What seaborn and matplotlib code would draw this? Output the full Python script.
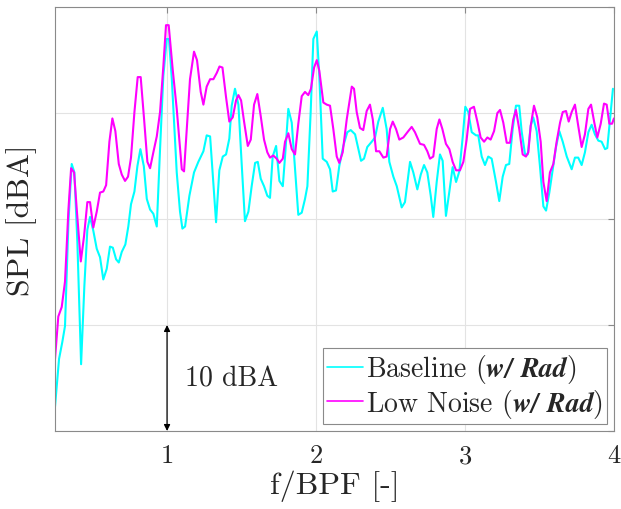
import matplotlib
matplotlib.use("Agg", force=True)
import matplotlib.pyplot as plt
import pandas as pd
import seaborn as sns

# Baseline (w/ Rad) spectrum
f_base = [
    0.248, 0.275, 0.297, 0.315, 0.338, 0.360, 0.378, 0.398, 0.423, 0.445,
    0.465, 0.483, 0.505, 0.528, 0.550, 0.572, 0.595, 0.617, 0.636, 0.658,
    0.676, 0.696, 0.720, 0.740, 0.758, 0.781, 0.801, 0.821, 0.844, 0.864,
    0.886, 0.908, 0.931, 0.953, 0.975, 0.998, 1.013, 1.032, 1.065, 1.087,
    1.103, 1.121, 1.150, 1.181, 1.210, 1.244, 1.266, 1.289, 1.311, 1.329,
    1.351, 1.374, 1.396, 1.418, 1.434, 1.456, 1.479, 1.501, 1.523, 1.546,
    1.568, 1.591, 1.609, 1.629, 1.651, 1.673, 1.691, 1.709, 1.732, 1.754,
    1.777, 1.792, 1.814, 1.837, 1.859, 1.881, 1.904, 1.926, 1.942, 1.964,
    1.982, 2.005, 2.022, 2.045, 2.072, 2.094, 2.112, 2.134, 2.156, 2.183,
    2.210, 2.233, 2.262, 2.284, 2.302, 2.322, 2.344, 2.374, 2.396, 2.418,
    2.448, 2.474, 2.492, 2.519, 2.542, 2.575, 2.597, 2.631, 2.653, 2.680,
    2.703, 2.725, 2.747, 2.770, 2.787, 2.810, 2.832, 2.850, 2.872, 2.895,
    2.917, 2.940, 2.962, 2.985, 3.002, 3.022, 3.045, 3.074, 3.089, 3.112,
    3.134, 3.156, 3.179, 3.208, 3.230, 3.253, 3.275, 3.297, 3.320, 3.342,
    3.364, 3.380, 3.403, 3.421, 3.441, 3.458, 3.481, 3.503, 3.526, 3.544,
    3.566, 3.589, 3.611, 3.633, 3.656, 3.683, 3.716, 3.738, 3.760, 3.783,
    3.805, 3.828, 3.850, 3.872, 3.895, 3.917, 3.940, 3.955, 3.973, 3.993,
]
spl_base = [
    52.3, 56.8, 58.4, 59.9, 69.7, 75.2, 74.4, 67.8, 56.3, 63.7,
    69.0, 70.2, 68.9, 67.2, 66.4, 64.3, 65.3, 67.4, 67.3, 66.2,
    65.9, 66.9, 67.6, 69.3, 71.4, 72.6, 75.0, 76.6, 75.0, 71.9,
    70.9, 70.5, 69.3, 76.6, 83.5, 87.0, 87.0, 83.2, 74.4, 70.7,
    69.1, 69.3, 72.2, 74.4, 75.4, 76.4, 77.9, 77.8, 73.3, 69.7,
    74.6, 75.9, 76.1, 77.6, 80.7, 82.3, 80.8, 75.2, 69.8, 70.7,
    73.1, 75.3, 75.4, 73.8, 73.1, 72.2, 72.0, 75.9, 76.9, 73.6,
    73.1, 75.9, 80.4, 79.1, 74.7, 70.4, 70.6, 71.9, 73.1, 80.1,
    87.0, 87.7, 83.5, 75.7, 75.4, 74.7, 72.6, 72.7, 75.0, 76.9,
    78.2, 78.4, 78.0, 76.6, 75.5, 75.7, 76.8, 77.3, 77.7, 79.2,
    80.5, 78.5, 75.4, 74.0, 73.1, 71.1, 71.6, 75.4, 74.4, 72.8,
    74.2, 75.1, 74.4, 72.2, 70.2, 73.5, 76.1, 75.5, 70.3, 72.6,
    74.9, 73.5, 74.5, 77.8, 80.6, 80.1, 78.2, 77.9, 77.9, 75.9,
    75.1, 75.9, 75.7, 73.5, 71.7, 74.0, 75.1, 75.2, 78.5, 80.7,
    80.7, 78.3, 76.1, 76.1, 78.8, 79.6, 78.3, 75.0, 71.2, 70.8,
    72.5, 74.7, 76.8, 78.3, 77.3, 75.9, 74.7, 75.8, 75.8, 75.1,
    76.3, 78.2, 78.9, 78.0, 77.4, 77.3, 76.6, 76.7, 79.4, 82.3,
]

# Low Noise (w/ Rad) spectrum
f_low = [
    0.248, 0.270, 0.293, 0.315, 0.338, 0.356, 0.376, 0.394, 0.421, 0.443,
    0.465, 0.483, 0.505, 0.528, 0.550, 0.572, 0.591, 0.613, 0.633, 0.653,
    0.676, 0.696, 0.718, 0.738, 0.758, 0.781, 0.803, 0.823, 0.846, 0.868,
    0.886, 0.908, 0.931, 0.953, 0.975, 0.993, 1.011, 1.038, 1.065, 1.099,
    1.114, 1.154, 1.181, 1.201, 1.226, 1.244, 1.266, 1.289, 1.311, 1.334,
    1.352, 1.372, 1.396, 1.418, 1.441, 1.463, 1.479, 1.497, 1.517, 1.542,
    1.562, 1.584, 1.606, 1.629, 1.651, 1.673, 1.691, 1.713, 1.736, 1.754,
    1.777, 1.792, 1.814, 1.837, 1.859, 1.881, 1.904, 1.926, 1.948, 1.966,
    1.987, 2.005, 2.022, 2.049, 2.072, 2.094, 2.116, 2.139, 2.156, 2.179,
    2.206, 2.240, 2.255, 2.273, 2.295, 2.317, 2.340, 2.362, 2.381, 2.403,
    2.425, 2.452, 2.474, 2.497, 2.515, 2.537, 2.559, 2.586, 2.619, 2.642,
    2.664, 2.698, 2.725, 2.747, 2.765, 2.787, 2.810, 2.828, 2.848, 2.872,
    2.895, 2.917, 2.940, 2.966, 2.989, 3.011, 3.034, 3.060, 3.083, 3.105,
    3.128, 3.150, 3.172, 3.195, 3.217, 3.235, 3.257, 3.280, 3.302, 3.324,
    3.342, 3.364, 3.387, 3.409, 3.425, 3.441, 3.463, 3.485, 3.508, 3.526,
    3.548, 3.570, 3.593, 3.615, 3.638, 3.656, 3.678, 3.696, 3.716, 3.738,
    3.760, 3.783, 3.805, 3.828, 3.846, 3.868, 3.888, 3.911, 3.933, 3.951,
    3.969, 3.987, 4.000,
]
spl_low = [
    56.8, 60.8, 61.7, 64.1, 70.9, 74.8, 74.4, 70.9, 66.0, 68.4,
    71.6, 71.6, 69.2, 70.7, 72.5, 72.6, 73.2, 77.3, 79.5, 78.3,
    75.2, 74.2, 73.6, 74.0, 75.8, 80.1, 83.4, 83.4, 79.4, 75.4,
    74.8, 76.3, 77.8, 80.1, 84.4, 88.3, 88.3, 84.1, 80.4, 74.7,
    74.5, 83.2, 85.8, 85.0, 82.0, 80.8, 82.5, 83.2, 83.2, 83.8,
    84.4, 84.3, 81.5, 79.2, 79.6, 81.2, 81.7, 81.2, 79.2, 76.9,
    77.5, 80.8, 81.8, 79.7, 77.5, 76.3, 75.8, 76.0, 75.7, 75.3,
    75.7, 77.3, 78.1, 76.6, 76.1, 79.0, 81.6, 82.0, 81.7, 82.3,
    84.3, 85.0, 84.0, 81.0, 80.8, 80.7, 78.5, 75.9, 75.3, 76.3,
    79.4, 82.5, 82.3, 80.1, 78.6, 78.4, 80.2, 80.8, 79.4, 76.4,
    76.4, 75.8, 75.9, 78.5, 79.2, 78.5, 77.5, 77.7, 78.3, 78.7,
    78.2, 77.1, 77.0, 76.4, 75.7, 75.9, 78.5, 79.4, 78.5, 77.1,
    76.6, 75.4, 74.6, 74.6, 75.4, 77.5, 80.4, 80.6, 79.2, 77.7,
    77.3, 77.7, 77.5, 78.3, 80.0, 80.3, 79.1, 77.2, 77.2, 79.4,
    80.3, 78.5, 76.1, 75.9, 76.3, 78.8, 80.7, 79.6, 77.3, 73.5,
    71.7, 74.4, 75.2, 77.3, 79.1, 80.1, 80.2, 79.2, 80.1, 80.8,
    78.8, 76.8, 78.0, 80.4, 80.8, 79.1, 77.7, 79.0, 80.9, 80.8,
    79.0, 79.0, 79.5,
]

labels = [
    r"Baseline ($\mathbfit{w/\ Rad}$)",
    r"Low Noise ($\mathbfit{w/\ Rad}$)",
]
colors = ["#00FFFF", "#FF00FF"]
x_ticks = [1, 2, 3, 4]
y_ticks = [50, 60, 70, 80, 90]

frame = pd.concat(
    [
        pd.DataFrame({"f": f_base, "spl": spl_base, "case": labels[0]}),
        pd.DataFrame({"f": f_low, "spl": spl_low, "case": labels[1]}),
    ],
    ignore_index=True,
)

sns.set_theme(style="white")
plt.rcParams["font.family"] = ["cmr10", "DejaVu Serif"]
plt.rcParams["mathtext.fontset"] = "cm"
plt.rcParams["axes.formatter.use_mathtext"] = True

fig = plt.figure(figsize=(6.21, 5.10), dpi=100)
ax = fig.add_axes([0.0886, 0.153, 0.9001, 0.831])

sns.lineplot(
    data=frame,
    x="f",
    y="spl",
    hue="case",
    palette=colors,
    sort=False,
    estimator=None,
    linewidth=1.5,
    ax=ax,
)

ax.set_xlim(0.248, 4.0)
ax.set_ylim(50, 90)
ax.set_xticks(x_ticks)
ax.set_xticklabels([str(t) for t in x_ticks])
ax.set_yticks(y_ticks)
ax.set_yticklabels([])
ax.grid(True, color="#e3e3e3", linewidth=0.8)
ax.set_axisbelow(True)
for spine in ax.spines.values():
    spine.set_color("#8a8a8a")
    spine.set_linewidth(0.8)
ax.tick_params(direction="in", length=4, width=0.8, color="#8a8a8a",
               top=True, right=True, labelsize=19, pad=9)
ax.set_xlabel("f/BPF [-]", fontsize=23, labelpad=2)
ax.set_ylabel("SPL [dBA]", fontsize=23, labelpad=4)

# 10 dBA scale arrow
ax.annotate(
    "",
    xy=(1.0, 50.0),
    xytext=(1.0, 60.0),
    arrowprops=dict(arrowstyle="<|-|>", color="black", lw=0.9,
                    mutation_scale=9, shrinkA=0, shrinkB=0),
)
ax.text(1.12, 55.0, "10 dBA", fontsize=20, va="center", ha="left")

leg = ax.legend(
    loc="lower right",
    fontsize=20,
    frameon=True,
    fancybox=False,
    framealpha=1,
    edgecolor="#8a8a8a",
    handlelength=1.3,
    handletextpad=0.1,
    borderpad=0.15,
    labelspacing=0.05,
    borderaxespad=0.25,
)
leg.get_frame().set_linewidth(0.8)
for line in leg.get_lines():
    line.set_linewidth(1.2)

fig.savefig("out.png", dpi=100)
plt.close(fig)
